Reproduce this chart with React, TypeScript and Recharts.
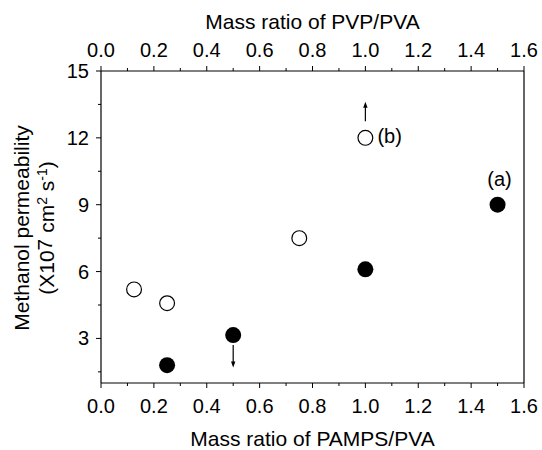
import React from "react";
import { ScatterChart, Scatter, XAxis, YAxis, ReferenceLine } from "recharts";

// PAMPS/PVA membranes (filled circles, bottom axis)
const pampsRatio = [0.25, 0.5, 1.0, 1.5];
const pampsPermeability = [1.8, 3.15, 6.1, 9.0];
const pampsTags = ["", "", "", "(a)"];

// PVP/PVA membranes (open circles, top axis)
const pvpRatio = [0.125, 0.25, 0.75, 1.0];
const pvpPermeability = [5.2, 4.58, 7.5, 12.0];
const pvpTags = ["", "", "", "(b)"];

const xTicks = [0, 0.1, 0.2, 0.3, 0.4, 0.5, 0.6, 0.7, 0.8, 0.9, 1.0, 1.1, 1.2, 1.3, 1.4, 1.5, 1.6];
const yTicks = [1.5, 3, 4.5, 6, 7.5, 9, 10.5, 12, 13.5, 15];

// arrows: value keeps going beyond the marker
const pvpArrow = { x: 1.0, from: 12.75, to: 13.62 };
const pampsArrow = { x: 0.5, from: 2.7, to: 1.7 };

const FONT = '"Liberation Sans", Arial, Helvetica, sans-serif';
const FS = 20;
const TITLE_FS = 21;

const pampsData = pampsRatio.map((x, i) => ({ x, y: pampsPermeability[i], tag: pampsTags[i] }));
const pvpData = pvpRatio.map((x, i) => ({ x, y: pvpPermeability[i], tag: pvpTags[i] }));

const isMajorX = (v: number) => Math.round(v * 10) % 2 === 0;
const isMajorY = (v: number) => Math.round(v * 10) % 30 === 0;

const XTick = ({ x, y, payload, top }: any) => {
  const major = isMajorX(payload.value);
  const len = major ? 5 : 3;
  const dir = top ? -1 : 1;
  return (
    <g>
      <line x1={x} x2={x} y1={y} y2={y + dir * len} stroke="#000" strokeWidth={1} />
      {major && (
        <text
          x={x}
          y={top ? y - 14 : y + 30}
          textAnchor="middle"
          fontFamily={FONT}
          fontSize={FS}
          fill="#000"
        >
          {payload.value.toFixed(1)}
        </text>
      )}
    </g>
  );
};

const YTick = ({ x, y, payload, right }: any) => {
  const major = isMajorY(payload.value);
  const len = major ? 5 : 3;
  const dir = right ? 1 : -1;
  return (
    <g>
      <line x1={x} x2={x + dir * len} y1={y} y2={y} stroke="#000" strokeWidth={1} />
      {major && !right && (
        <text x={x - 12} y={y + 7} textAnchor="end" fontFamily={FONT} fontSize={FS} fill="#000">
          {payload.value}
        </text>
      )}
    </g>
  );
};

const FilledDot = (p: any) => (
  <g>
    <circle cx={p.cx} cy={p.cy} r={8} fill="#000" />
    {p.payload.tag && (
      <text x={p.cx + 2} y={p.cy - 19} textAnchor="middle" fontFamily={FONT} fontSize={FS} fill="#000">
        {p.payload.tag}
      </text>
    )}
  </g>
);

const OpenDot = (p: any) => (
  <g>
    <circle cx={p.cx} cy={p.cy} r={7.4} fill="#fff" stroke="#000" strokeWidth={1.2} />
    {p.payload.tag && (
      <text x={p.cx + 12} y={p.cy + 5} textAnchor="start" fontFamily={FONT} fontSize={FS} fill="#000">
        {p.payload.tag}
      </text>
    )}
  </g>
);

const Arrow = (p: any) => {
  const { x1, y1, x2, y2 } = p;
  const d = y2 > y1 ? 1 : -1;
  return (
    <g>
      <line x1={x1} y1={y1} x2={x2} y2={y2 - d * 5} stroke="#000" strokeWidth={1.2} />
      <path d={`M${x2 - 2.2},${y2 - d * 6} L${x2 + 2.2},${y2 - d * 6} L${x2},${y2} Z`} fill="#000" />
    </g>
  );
};

const AxisTitles = () => (
  <g fontFamily={FONT} fontSize={TITLE_FS} fill="#000">
    <text x={312.5} y={29} textAnchor="middle">Mass ratio of PVP/PVA</text>
    <text x={312.5} y={446} textAnchor="middle">Mass ratio of PAMPS/PVA</text>
    <text x={29} y={228} textAnchor="middle" transform="rotate(-90 29 228)">Methanol permeability</text>
    <text x={54} y={228} textAnchor="middle" transform="rotate(-90 54 228)">
      (X10<tspan dy={-2}>7</tspan>
      <tspan dy={2}> cm</tspan>
      <tspan dy={-7} fontSize={14}>2</tspan>
      <tspan dy={7}> s</tspan>
      <tspan dy={-7} fontSize={14}>-1</tspan>
      <tspan dy={7}>)</tspan>
    </text>
  </g>
);

export default function App() {
  return (
    <div style={{ position: "absolute", left: 0, top: 0, background: "#fff" }}>
      <ScatterChart width={542} height={450} margin={{ top: 0, right: 0, bottom: 0, left: 0 }}>
        <XAxis
          xAxisId="pamps"
          type="number"
          dataKey="x"
          orientation="bottom"
          domain={[0, 1.6]}
          ticks={xTicks}
          interval={0}
          height={67}
          tickSize={0}
          tickMargin={0}
          tickLine={false}
          axisLine={{ stroke: "#000", strokeWidth: 1.2 }}
          tick={<XTick />}
          label={{ content: () => <AxisTitles /> }}
        />
        <XAxis
          xAxisId="pvp"
          type="number"
          dataKey="x"
          orientation="top"
          domain={[0, 1.6]}
          ticks={xTicks}
          interval={0}
          height={71}
          tickSize={0}
          tickMargin={0}
          tickLine={false}
          axisLine={{ stroke: "#000", strokeWidth: 1.2 }}
          tick={<XTick top />}
        />
        <YAxis
          yAxisId="l"
          type="number"
          dataKey="y"
          orientation="left"
          domain={[1, 15]}
          ticks={yTicks}
          interval={0}
          width={101}
          tickSize={0}
          tickMargin={0}
          tickLine={false}
          axisLine={{ stroke: "#000", strokeWidth: 1.2 }}
          tick={<YTick />}
        />
        <YAxis
          yAxisId="r"
          type="number"
          orientation="right"
          domain={[1, 15]}
          ticks={yTicks}
          interval={0}
          width={18}
          tickSize={0}
          tickMargin={0}
          tickLine={false}
          axisLine={{ stroke: "#000", strokeWidth: 1.2 }}
          tick={<YTick right />}
        />
        <ReferenceLine
          xAxisId="pvp"
          yAxisId="l"
          segment={[{ x: pvpArrow.x, y: pvpArrow.from }, { x: pvpArrow.x, y: pvpArrow.to }]}
          shape={Arrow}
        />
        <ReferenceLine
          xAxisId="pamps"
          yAxisId="l"
          segment={[{ x: pampsArrow.x, y: pampsArrow.from }, { x: pampsArrow.x, y: pampsArrow.to }]}
          shape={Arrow}
        />
        <Scatter
          data={pvpData}
          xAxisId="pvp"
          yAxisId="l"
          shape={OpenDot}
          isAnimationActive={false}
        />
        <Scatter
          data={pampsData}
          xAxisId="pamps"
          yAxisId="l"
          shape={FilledDot}
          isAnimationActive={false}
        />
      </ScatterChart>
    </div>
  );
}
